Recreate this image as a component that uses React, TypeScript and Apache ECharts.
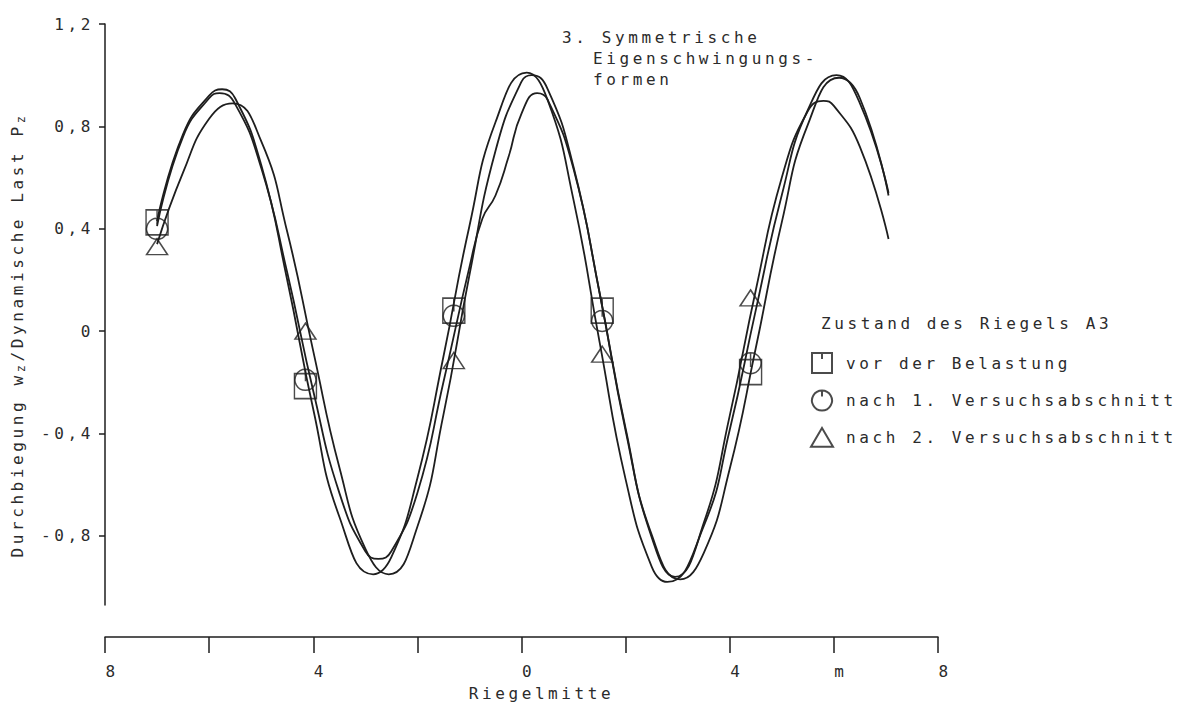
import React, { useEffect, useRef } from 'react';
import * as echarts from 'echarts';

// ---------- data ----------
const curve1X = [-7, -6.5, -6, -5.75, -5.5, -5, -4.5, -4, -3.5, -2.85, -2.5, -2, -1.5, -1, -0.5, 0.1, 0.5, 1, 1.5, 2, 2.5, 2.8, 3.5, 4, 4.5, 5, 5.5, 6.05, 6.5, 7.05];
const curve1Y = [0.43, 0.77, 0.92, 0.945, 0.91, 0.65, 0.20, -0.305, -0.724, -0.95, -0.883, -0.575, -0.10, 0.411, 0.816, 1.01, 0.904, 0.512, -0.043, -0.579, -0.92, -0.98, -0.762, -0.385, 0.082, 0.532, 0.864, 1.0, 0.89, 0.54];

const curve2X = [-7, -6.5, -6, -5.8, -5.5, -5, -4.5, -4, -3.5, -3, -2.75, -2.5, -2, -1.5, -1, -0.75, -0.5, -0.25, 0, 0.3, 0.5, 1, 1.5, 2, 2.5, 2.95, 3.5, 4, 4.5, 5, 5.5, 5.8, 6, 6.5, 7.05];
const curve2Y = [0.41, 0.76, 0.91, 0.93, 0.887, 0.638, 0.229, -0.234, -0.631, -0.86, -0.89, -0.86, -0.632, -0.20, 0.25, 0.44, 0.53, 0.68, 0.85, 0.93, 0.905, 0.633, 0.149, -0.389, -0.805, -0.96, -0.75, -0.33, 0.16, 0.60, 0.86, 0.90, 0.88, 0.72, 0.36];

const curve3X = [-7, -6.5, -6, -5.55, -5, -4.5, -4, -3.5, -3, -2.55, -2, -1.5, -1, -0.5, 0, 0.2, 0.5, 1, 1.5, 2, 2.5, 3.05, 3.5, 4, 4.5, 5, 5.5, 6.1, 6.5, 7.05];
const curve3Y = [0.34, 0.62, 0.83, 0.89, 0.742, 0.388, -0.078, -0.531, -0.85, -0.95, -0.764, -0.327, 0.219, 0.704, 0.975, 1.0, 0.947, 0.641, 0.15, -0.38, -0.795, -0.97, -0.867, -0.538, -0.066, 0.426, 0.807, 0.99, 0.91, 0.53];

const markerX = [-7, -4.15, -1.3, 1.55, 4.4];
const vorBelastung = [0.425, -0.215, 0.08, 0.08, -0.16];
const nach1 = [0.40, -0.19, 0.06, 0.04, -0.125];
const nach2 = [0.33, 0.0, -0.115, -0.09, 0.13];

const seriesNames = ['vor der Belastung', 'nach 1. Versuchsabschnitt', 'nach 2. Versuchsabschnitt'];
const yTickValues = [-0.8, -0.4, 0, 0.4, 0.8, 1.2];
const xLabelValues = [-8, -4, 0, 4, 6, 8];

const titleLine1 = '3. Symmetrische';
const titleRest = 'Eigenschwingungs-\nformen';
const legendTitle = 'Zustand des Riegels A3';
const xName = 'Riegelmitte';

// ---------- style ----------
const FONT = '"DejaVu Sans Mono", monospace';
const LS = 3.6;
const INK = '#2b2b2b';
const LINE = '#1e1e1e';

const SQUARE = 'path://M0,0L20,0L20,20L0,20Z M10,0L10,6';
const CIRCLE = 'path://M10,0A10,10,0,1,1,9.99,0Z M10,0L10,6';
const TRIANGLE = 'path://M10,0L20,17L0,17Z';

const mctx = document.createElement('canvas').getContext('2d');
if ((echarts as any).setPlatformAPI && mctx) {
  (echarts as any).setPlatformAPI({
    measureText(text: string, font?: string) {
      mctx.font = font || '12px sans-serif';
      return { width: mctx.measureText(text).width + LS * (text ? text.length : 0) };
    },
  });
}

const pairs = (xs: number[], ys: number[]) => xs.map((x, i) => [x, ys[i]]);
const fmtY = (v: number) => (v === 0 ? '0' : v.toFixed(1).replace('.', ','));
const fmtX = (v: number) => (v === 6 ? 'm' : String(Math.abs(v)));

export default function App() {
  const ref = useRef<HTMLDivElement>(null);
  useEffect(() => {
    if (!ref.current) return;
    const chart = echarts.init(ref.current, null, { renderer: 'svg' });
    const curves = [
      [curve1X, curve1Y],
      [curve2X, curve2Y],
      [curve3X, curve3Y],
    ];
    const lineSeries = curves.map(([xs, ys], i) => ({
      type: 'line',
      name: 'Kurve ' + (i + 1),
      xAxisIndex: 0,
      yAxisIndex: 0,
      data: pairs(xs, ys),
      smooth: 0.5,
      showSymbol: false,
      lineStyle: { color: LINE, width: 1.8 },
      z: 2,
    }));
    const markerSymbols = [SQUARE, CIRCLE, TRIANGLE];
    const markerSizes = [[22, 25], [21, 21], [21, 16]];
    const scatterSeries = [vorBelastung, nach1, nach2].map((ys, i) => ({
      type: 'scatter',
      name: seriesNames[i],
      xAxisIndex: 0,
      yAxisIndex: 0,
      data: pairs(markerX, ys),
      symbol: markerSymbols[i],
      symbolSize: markerSizes[i],
      itemStyle: { color: 'rgba(255,255,255,0)', borderColor: LINE, borderWidth: 1.5 },
      z: 3,
    }));
    const txt = { fontFamily: FONT, fontSize: 16, color: INK };
    chart.setOption({
      animation: false,
      backgroundColor: '#ffffff',
      title: [
        { text: titleLine1, left: 557, top: 22, textStyle: { ...txt, fontWeight: 'normal', lineHeight: 21 } },
        { text: titleRest, left: 588, top: 43, textStyle: { ...txt, fontWeight: 'normal', lineHeight: 21 } },
        { text: legendTitle, left: 816, top: 309, textStyle: { ...txt, fontWeight: 'normal' } },
      ],
      legend: {
        orient: 'vertical',
        left: 805,
        top: 347,
        itemWidth: 22,
        itemHeight: 20,
        itemGap: 15.5,
        data: seriesNames,
        textStyle: { ...txt, padding: [0, 0, 0, 8] },
        selectedMode: false,
      },
      grid: [
        { left: 105, top: 24, width: 833, height: 581 },
        { left: 105, top: 636, width: 833, height: 1 },
      ],
      xAxis: [
        { gridIndex: 0, type: 'value', min: -8, max: 8, show: false },
        {
          gridIndex: 1,
          type: 'value',
          min: -8,
          max: 8,
          interval: 2,
          position: 'bottom',
          axisLine: { lineStyle: { color: LINE, width: 1.5 } },
          axisTick: { length: 16, lineStyle: { color: LINE, width: 1.5 } },
          axisLabel: { ...txt, margin: 25, padding: [0, 0, 0, 14], customValues: xLabelValues, formatter: fmtX },
          splitLine: { show: false },
          name: xName,
          nameLocation: 'middle',
          nameGap: 47,
          nameTextStyle: { ...txt, padding: [0, 0, 0, 40] },
        },
      ],
      yAxis: [
        {
          gridIndex: 0,
          type: 'value',
          min: -1.07,
          max: 1.2,
          axisLine: { show: true, onZero: false, lineStyle: { color: LINE, width: 1.5 } },
          axisTick: { show: true, length: 6, customValues: yTickValues, lineStyle: { color: LINE, width: 1.5 } },
          axisLabel: { ...txt, margin: 11, customValues: yTickValues, formatter: fmtY },
          splitLine: { show: false },
        },
        { gridIndex: 1, type: 'value', show: false },
      ],
      graphic: [
        {
          type: 'text',
          x: 17,
          y: 335,
          rotation: Math.PI / 2,
          style: {
            text: '{t|Durchbiegung w}{s|z}{t|/Dynamische Last P}{s|z}',
            align: 'center',
            verticalAlign: 'middle',
            fill: INK,
            font: '16px ' + FONT,
            rich: {
              t: { fontFamily: FONT, fontSize: 16, fill: INK, verticalAlign: 'middle', lineHeight: 24 },
              s: { fontFamily: FONT, fontSize: 12, fill: INK, verticalAlign: 'bottom', lineHeight: 24 },
            },
          },
        },
      ],
      series: [...lineSeries, ...scatterSeries],
    });
    return () => chart.dispose();
  }, []);
  return (
    <div
      ref={ref}
      style={{ position: 'absolute', left: 0, top: 0, width: 1189, height: 708, letterSpacing: LS + 'px' }}
    />
  );
}
